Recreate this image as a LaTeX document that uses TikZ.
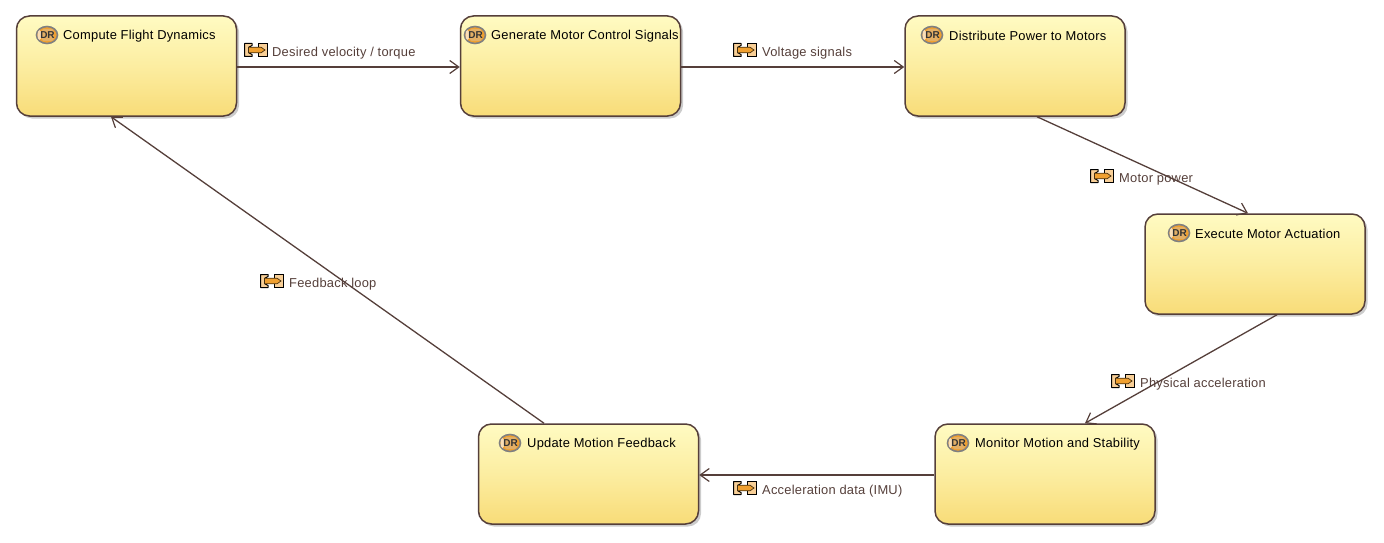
\documentclass[tikz,border=0pt]{standalone}
\usepackage{fontspec}
\setmainfont{Liberation Sans}
\newfontfamily\diagfont[LetterSpace=1.8]{Liberation Sans}
\usetikzlibrary{arrows.meta,shadows,shapes.geometric}
\definecolor{edgeC}{HTML}{553F3A}
\definecolor{boxTop}{HTML}{FFFBC2}
\definecolor{boxBot}{HTML}{F8DC78}
\definecolor{icoOr}{HTML}{F0A030}
\tikzset{
  fnbox/.style={draw=edgeC,line width=1.5pt,rounded corners=13pt,minimum width=220pt,minimum height=100pt,
    top color=boxTop,bottom color=boxBot,middle color=boxTop!55!boxBot,inner sep=0pt,
    drop shadow={shadow xshift=2.5pt,shadow yshift=-2.5pt,fill=black,opacity=.2}},
  flow/.style={draw=edgeC,line width=1.3pt,-{Straight Barb[length=9pt,width=13pt,line width=1.2pt]}},
  fntitle/.style={anchor=west,inner sep=0pt,font=\diagfont\fontsize{12.9}{15}\selectfont,text=black},
  flowlabel/.style={anchor=west,inner sep=0pt,font=\diagfont\fontsize{12.9}{15}\selectfont,text=edgeC},
  fnicon/.pic={
    \draw[fill=icoOr,draw=black!50,line width=1.6pt] (0,0) ellipse[x radius=10.5,y radius=8.5];
    \fill[icoOr!35!white] (-7.5,0) ellipse[x radius=2,y radius=5];
    \fill[black!20,opacity=.35,rounded corners=2pt] (-5,-6) rectangle (6.5,6);
    \node[inner sep=0pt,font=\bfseries\fontsize{10}{10}\selectfont,text=black!80] at (0.5,0.2) {DR};
  },
  itemicon/.pic={
    \draw[fill=icoOr!50!white,draw=black,line width=1pt,line join=round] (0.5,-6.5) -- (8,-6.5) -- (8,-4.5) -- (4.5,-2.5) -- (4.5,2.5) -- (8,4.5) -- (8,6.5) -- (0.5,6.5) -- cycle;
    \draw[fill=icoOr!50!white,draw=black,line width=1pt] (23.5,-6.5) -- (14.5,-6.5) -- (14.5,6.5) -- (23.5,6.5) -- cycle;
    \fill[icoOr,draw=black!70!icoOr,line width=.7pt] (4.5,-2.8) -- (17,-2.8) -- (21,0) -- (17,2.8) -- (4.5,2.8) -- cycle;
  },
}
\begin{document}
\begin{tikzpicture}[x=1pt,y=-1pt]
\useasboundingbox (0,0) rectangle (1384,543);
\node[fnbox] (cfd) at (126.5,66) {};
\node[fnbox] (gen) at (570.5,66) {};
\node[fnbox] (dist) at (1015,66) {};
\node[fnbox] (exec) at (1255,264) {};
\node[fnbox] (mon) at (1045,474) {};
\node[fnbox] (upd) at (588.5,474) {};

\pic at (47,35) {fnicon};
\node[fntitle] (t1) at (63,36) {Compute Flight Dynamics};
\pic at (475,35) {fnicon};
\node[fntitle] (t2) at (491,36) {Generate Motor Control Signals};
\pic at (932,35) {fnicon};
\node[fntitle] (t3) at (949,36) {Distribute Power to Motors};
\pic at (1179,233) {fnicon};
\node[fntitle] (t4) at (1195,234) {Execute Motor Actuation};
\pic at (958,443) {fnicon};
\node[fntitle] (t5) at (975,444) {Monitor Motion and Stability};
\pic at (510,443) {fnicon};
\node[fntitle] (t6) at (527,444) {Update Motion Feedback};

\pic at (244,50) {itemicon};
\node[flowlabel] (l1) at (272,53) {Desired velocity / torque};
\pic at (733,50) {itemicon};
\node[flowlabel] (l2) at (762,53) {Voltage signals};
\pic at (1090,176) {itemicon};
\node[flowlabel] (l3) at (1119,179) {Motor power};
\pic at (1111,381) {itemicon};
\node[flowlabel] (l4) at (1140,384) {Physical acceleration};
\pic at (733,488) {itemicon};
\node[flowlabel] (l5) at (762,491) {Acceleration data (IMU)};
\pic at (260,281) {itemicon};
\node[flowlabel] (l6) at (289,284) {Feedback loop};

\draw[flow] ([yshift=-1pt]cfd.east) -- ([yshift=-1pt]gen.west);
\draw[flow] ([yshift=-1pt]gen.east) -- ([yshift=-1pt]dist.west);
\draw[flow] ([xshift=22pt]dist.south) -- ([xshift=-7pt]exec.north);
\draw[flow] ([xshift=22pt]exec.south) -- ([xshift=40pt]mon.north);
\draw[flow] ([yshift=-1pt]mon.west) -- ([yshift=-1pt]upd.east);
\draw[flow] ([xshift=-44.5pt]upd.north) -- ([xshift=-15.5pt]cfd.south);
\end{tikzpicture}
\end{document}
